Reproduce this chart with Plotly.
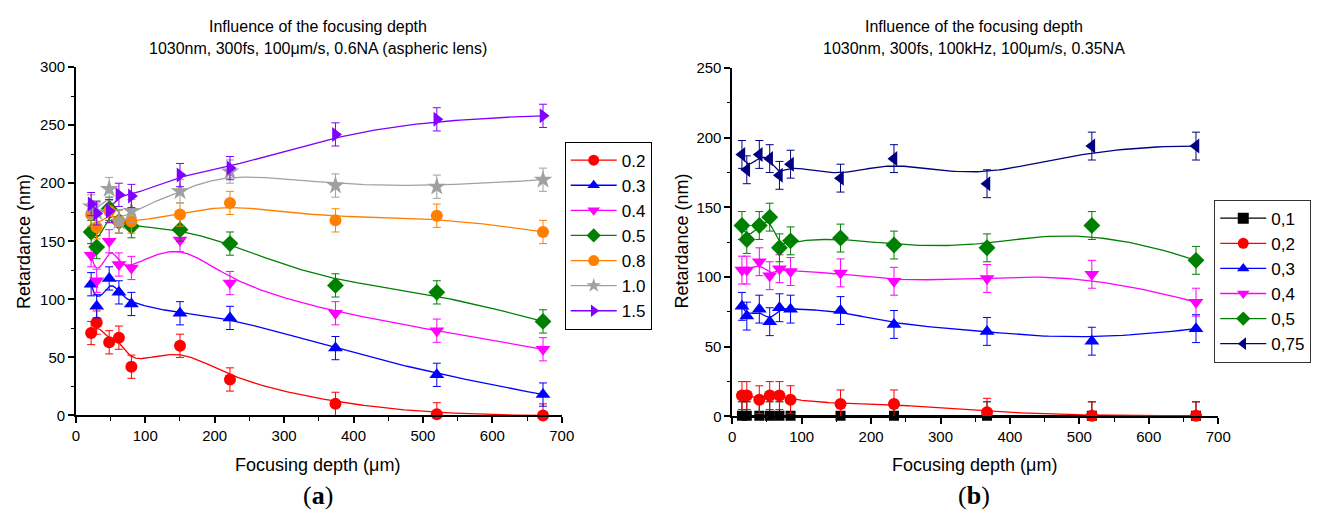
import numpy as np
import plotly.graph_objects as go

# ---------------- data: panel (a) ----------------
A_DEPTH = [22, 30, 48, 62, 80, 150, 222, 374, 520, 673]
A_LABELS = ["0.2", "0.3", "0.4", "0.5", "0.8", "1.0", "1.5"]
A_02 = [71, 80, 63, 67, 42, 60, 31, 10, 1, 0]
A_03 = [113, 94, 118, 106, 96, 88, 84, 58, 35, 18]
A_04 = [138, 116, 150, 130, 127, 151, 114, 88, 73, 57]
A_05 = [158, 145, 178, 167, 163, 160, 148, 112, 106, 81]
A_08 = [173, 162, 176, 167, 167, 173, 183, 168, 172, 158]
A_10 = [180, 175, 195, 167, 176, 193, 210, 198, 197, 203]
A_15 = [182, 174, 176, 190, 189, 207, 213, 242, 255, 258]
A_ERR = 10

# ---------------- data: panel (b) ----------------
B_DEPTH = [14, 21, 39, 54, 68, 84, 156, 233, 367, 518, 668]
B_LABELS = ["0,1", "0,2", "0,3", "0,4", "0,5", "0,75"]
B_01 = [0.5, 0.5, 0.5, 0.5, 0.5, 0.5, 0.5, 0.5, 0.5, 0.5, 0.5]
B_02 = [15, 15, 12, 15, 15, 12, 9, 9, 3, 0.5, 0.5]
B_03 = [79, 72, 77, 68, 78, 77, 76, 66, 61, 54, 63]
B_04 = [105, 105, 111, 101, 106, 104, 103, 97, 99, 102, 82]
B_05 = [137, 127, 137, 143, 121, 126, 128, 123, 121, 137, 112]
B_075 = [188, 177, 188, 185, 173, 181, 171, 185, 167, 194, 194]
B_ERR = 10

A_SERIES = [A_02, A_03, A_04, A_05, A_08, A_10, A_15]
A_COLORS = ["#FF0000", "#0000FF", "#FF00FF", "#008000", "#FF8000", "#A0A0A0", "#8000FF"]
A_SYMBOLS = ["circle", "triangle-up", "triangle-down", "diamond", "circle", "star", "triangle-right"]

B_SERIES = [B_01, B_02, B_03, B_04, B_05, B_075]
B_COLORS = ["#000000", "#FF0000", "#0000FF", "#FF00FF", "#008000", "#000080"]
B_SYMBOLS = ["square", "circle", "triangle-up", "triangle-down", "diamond", "triangle-left"]

SYM_SIZE = {"circle": 12, "square": 10, "triangle-up": 13, "triangle-down": 13,
            "triangle-right": 13, "triangle-left": 13, "diamond": 13, "star": 14}

W, H = 1324, 528
FONT = "Liberation Sans, Arial, sans-serif"


def bspline(xs, ys, n=300, k=3):
    """Clamped uniform B-spline using the data points as control points."""
    P = np.column_stack([xs, ys]).astype(float)
    m = len(P)
    k = min(k, m - 1)
    knots = np.concatenate([np.zeros(k), np.arange(m - k + 1), np.full(k, m - k)]).astype(float)
    t = np.linspace(0, m - k - 1e-9, n)
    B = np.zeros((n, len(knots) - 1))
    for i in range(len(knots) - 1):
        B[:, i] = (knots[i] <= t) & (t < knots[i + 1])
    for d in range(1, k + 1):
        Bn = np.zeros((n, len(knots) - 1 - d))
        for i in range(len(knots) - 1 - d):
            a = knots[i + d] - knots[i]
            b = knots[i + d + 1] - knots[i + 1]
            term = np.zeros(n)
            if a > 0:
                term += (t - knots[i]) / a * B[:, i]
            if b > 0:
                term += (knots[i + d + 1] - t) / b * B[:, i + 1]
            Bn[:, i] = term
        B = Bn
    C = B @ P
    return C[:, 0], C[:, 1]


def px(x):
    return x / W


def py(y):
    return 1 - y / H


fig = go.Figure()


def add_panel(depth, series, labels, colors, symbols, err, xa, ya, legend):
    for vals, lab, col, sym in zip(series, labels, colors, symbols):
        cx, cy = bspline(depth, vals)
        fig.add_trace(go.Scatter(x=cx, y=cy, mode="lines", line=dict(color=col, width=1.3),
                                 showlegend=False, hoverinfo="skip", xaxis=xa, yaxis=ya))
    for vals, lab, col, sym in zip(series, labels, colors, symbols):
        minus = [min(err, v) for v in vals]
        fig.add_trace(go.Scatter(
            x=depth, y=vals, mode="markers",
            marker=dict(color=col, symbol=sym, size=SYM_SIZE[sym], line=dict(width=0)),
            error_y=dict(type="data", symmetric=False, array=[err] * len(vals), arrayminus=minus,
                         color=col, thickness=1, width=4),
            cliponaxis=False, showlegend=False, xaxis=xa, yaxis=ya, name=lab))
    for lab, col, sym in zip(labels, colors, symbols):
        fig.add_trace(go.Scatter(x=[None], y=[None], mode="lines+markers", name=lab,
                                 line=dict(color=col, width=1.3),
                                 marker=dict(color=col, symbol=sym, size=11),
                                 legend=legend, xaxis=xa, yaxis=ya))


add_panel(A_DEPTH, A_SERIES, A_LABELS, A_COLORS, A_SYMBOLS, A_ERR, "x", "y", "legend")
add_panel(B_DEPTH, B_SERIES, B_LABELS, B_COLORS, B_SYMBOLS, B_ERR, "x2", "y2", "legend2")

axis_common = dict(showline=True, linecolor="black", linewidth=1.5, ticks="outside", ticklen=6,
                   tickwidth=1.5, tickcolor="black", showgrid=False, zeroline=False, mirror=False,
                   tickfont=dict(family=FONT, size=15, color="black"),
                   minor=dict(ticks="outside", ticklen=3.5, tickwidth=1.2, tickcolor="black", showgrid=False))

fig.update_layout(
    width=W, height=H, margin=dict(l=0, r=0, t=0, b=0),
    paper_bgcolor="white", plot_bgcolor="white",
    font=dict(family=FONT, color="black"),
    xaxis=dict(axis_common, domain=[px(72.8), px(565)], range=[0, 700], dtick=100,
               minor=dict(axis_common["minor"], dtick=50), anchor="y"),
    yaxis=dict(axis_common, domain=[py(420), py(60)], range=[0, 300], dtick=50,
               minor=dict(axis_common["minor"], dtick=25), anchor="x"),
    xaxis2=dict(axis_common, domain=[px(737.7), px(1230)], range=[0, 700], dtick=100,
                minor=dict(axis_common["minor"], dtick=50), anchor="y2"),
    yaxis2=dict(axis_common, domain=[py(421), py(61)], range=[0, 250], dtick=50,
                minor=dict(axis_common["minor"], dtick=25), anchor="x2"),
    legend=dict(x=px(568), y=py(137), xanchor="left", yanchor="top", bordercolor="black",
                borderwidth=1, bgcolor="white", font=dict(family=FONT, size=17, color="black"),
                itemwidth=46, tracegroupgap=0),
    legend2=dict(x=px(1226), y=py(197), xanchor="left", yanchor="top", bordercolor="#333333",
                 borderwidth=1, bgcolor="white", font=dict(family=FONT, size=17, color="black"),
                 itemwidth=46, tracegroupgap=0),
)

ann = []
def text(x, y, s, size, rot=0, family=FONT):
    ann.append(dict(x=px(x), y=py(y), xref="paper", yref="paper", text=s, showarrow=False,
                    xanchor="center", yanchor="middle", textangle=rot,
                    font=dict(family=family, size=size, color="black")))

text(318, 18, "Influence of the focusing depth", 16)
text(318, 41, "1030nm, 300fs, 100\u03bcm/s, 0.6NA (aspheric lens)", 16)
text(983, 18, "Influence of the focusing depth", 16)
text(983, 41, "1030nm, 300fs, 100kHz, 100\u03bcm/s, 0.35NA", 16)
text(21, 240, "Retardance (nm)", 18, rot=-90)
text(687, 240, "Retardance (nm)", 18, rot=-90)
text(318, 471, "Focusing depth (\u03bcm)", 18)
text(983, 471, "Focusing depth (\u03bcm)", 18)
text(318, 503, "(<b>a</b>)", 26, family="Liberation Serif, Times New Roman, serif")
text(983, 503, "(<b>b</b>)", 26, family="Liberation Serif, Times New Roman, serif")
fig.update_layout(annotations=ann)

fig.write_html("out.html")
